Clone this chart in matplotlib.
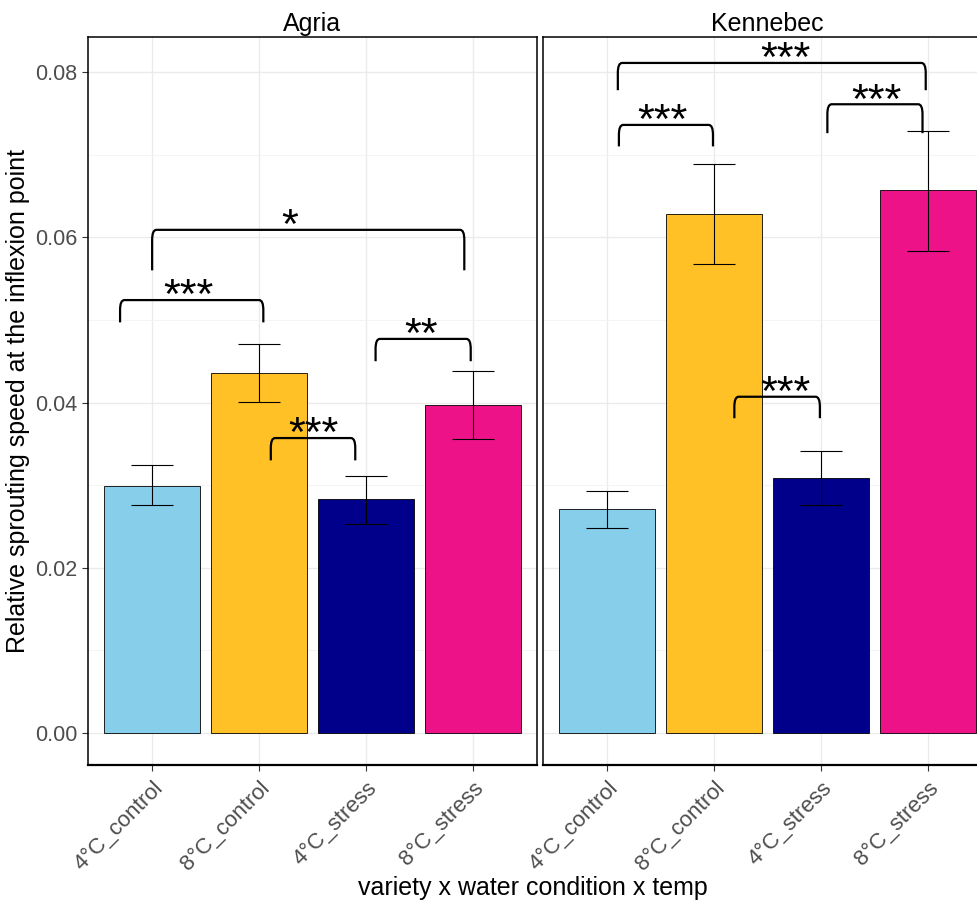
import matplotlib
matplotlib.use("Agg")
import matplotlib.pyplot as plt
from matplotlib.path import Path
from matplotlib.patches import PathPatch
from matplotlib.ticker import MultipleLocator

plt.rcParams['font.family'] = ['Liberation Sans', 'DejaVu Sans']

categories = ["4°C_control", "8°C_control", "4°C_stress", "8°C_stress"]
colors = ["#87CEEB", "#FFC125", "#00008B", "#EE1289"]
varieties = ["Agria", "Kennebec"]

agria_mean = [0.0299, 0.0436, 0.0283, 0.0397]
agria_lo = [0.0276, 0.0401, 0.0253, 0.0356]
agria_hi = [0.0324, 0.0471, 0.0311, 0.0438]

kennebec_mean = [0.0271, 0.0628, 0.0309, 0.0657]
kennebec_lo = [0.0248, 0.0568, 0.0276, 0.0583]
kennebec_hi = [0.0293, 0.0689, 0.0341, 0.0729]

# significance brackets: (x_left, x_right, y_top, y_leg, label, label_x)
agria_brackets = [
    (-0.30, 1.04, 0.0524, 0.0497, "***", 0.34),
    (1.11, 1.90, 0.0357, 0.0330, "***", 1.51),
    (2.09, 2.98, 0.0477, 0.0450, "**", 2.52),
    (0.00, 2.92, 0.0609, 0.0560, "*", 1.29),
]
kennebec_brackets = [
    (0.10, 2.98, 0.0811, 0.0778, "***", 1.67),
    (0.11, 0.99, 0.0736, 0.0710, "***", 0.52),
    (2.06, 2.95, 0.0761, 0.0726, "***", 2.52),
    (1.19, 1.99, 0.0407, 0.0381, "***", 1.67),
]

W, H = 978, 905
fig = plt.figure(figsize=(W / 100, H / 100), dpi=100)

ymin, ymax = -0.00387, 0.08424
panels = [
    (88, agria_mean, agria_lo, agria_hi, agria_brackets, "Agria"),
    (543, kennebec_mean, kennebec_lo, kennebec_hi, kennebec_brackets, "Kennebec"),
]
pw = 449
top, bottom = 37, 765

def bracket(ax, x0, x1, yt, yl):
    rx = 0.04
    ry = 0.0012
    verts = [(x0, yl), (x0, yt - ry), (x0, yt), (x0 + rx, yt),
             (x1 - rx, yt), (x1, yt), (x1, yt - ry), (x1, yl)]
    codes = [Path.MOVETO, Path.LINETO, Path.CURVE3, Path.CURVE3,
             Path.LINETO, Path.CURVE3, Path.CURVE3, Path.LINETO]
    ax.add_patch(PathPatch(Path(verts, codes), fill=False, lw=1.6,
                           edgecolor="black", zorder=5, clip_on=False))

for i, (left, mean, lo, hi, brs, title) in enumerate(panels):
    ax = fig.add_axes([left / W, 1 - bottom / H, pw / W, (bottom - top) / H])
    xs = list(range(len(categories)))
    ax.bar(xs, mean, width=0.9, color=colors, edgecolor="black", linewidth=0.6, zorder=3)
    yerr = [[m - l for m, l in zip(mean, lo)], [h - m for m, h in zip(mean, hi)]]
    ax.errorbar(xs, mean, yerr=yerr, fmt="none", ecolor="black", elinewidth=0.8,
                capsize=15, capthick=0.8, zorder=4)
    for (x0, x1, yt, yl, lab, lx) in brs:
        bracket(ax, x0, x1, yt, yl)
        ax.text(lx, yt - 0.0010, lab, ha="center", va="baseline", fontsize=31,
                color="black", zorder=6)
    ax.set_xlim(-0.6, 3.6)
    ax.set_ylim(ymin, ymax)
    ax.set_xticks(xs)
    ax.set_xticklabels(categories, rotation=45, ha="right", rotation_mode="anchor",
                       fontsize=16, color="#4D4D4D")
    ax.yaxis.set_major_locator(MultipleLocator(0.02))
    ax.yaxis.set_minor_locator(MultipleLocator(0.01))
    ax.grid(True, which="major", color="#EBEBEB", lw=1.0, zorder=0)
    ax.grid(True, which="minor", axis="y", color="#F2F2F2", lw=0.6, zorder=0)
    ax.set_axisbelow(True)
    for s in ax.spines.values():
        s.set_color("black")
        s.set_linewidth(1.1)
    ax.spines["bottom"].set_linewidth(1.6)
    ax.tick_params(axis="both", which="major", length=4, color="#333333", width=0.8)
    ax.tick_params(axis="y", which="minor", length=0)
    ax.tick_params(axis="x", pad=5)
    if i == 0:
        ax.set_yticklabels([f"{v:.2f}" for v in ax.get_yticks()], fontsize=15.5, color="#4D4D4D")
        ax.set_ylabel("Relative sprouting speed at the inflexion point", fontsize=18, labelpad=4)
    else:
        ax.tick_params(axis="y", labelleft=False, length=0)
    ax.set_title(title, fontsize=18, pad=4)

fig.text(0.5 * (88 + 978) / W, 1 - 888 / H, "variety x water condition x temp",
         ha="center", va="center", fontsize=18)

fig.savefig("out.png", dpi=100)
